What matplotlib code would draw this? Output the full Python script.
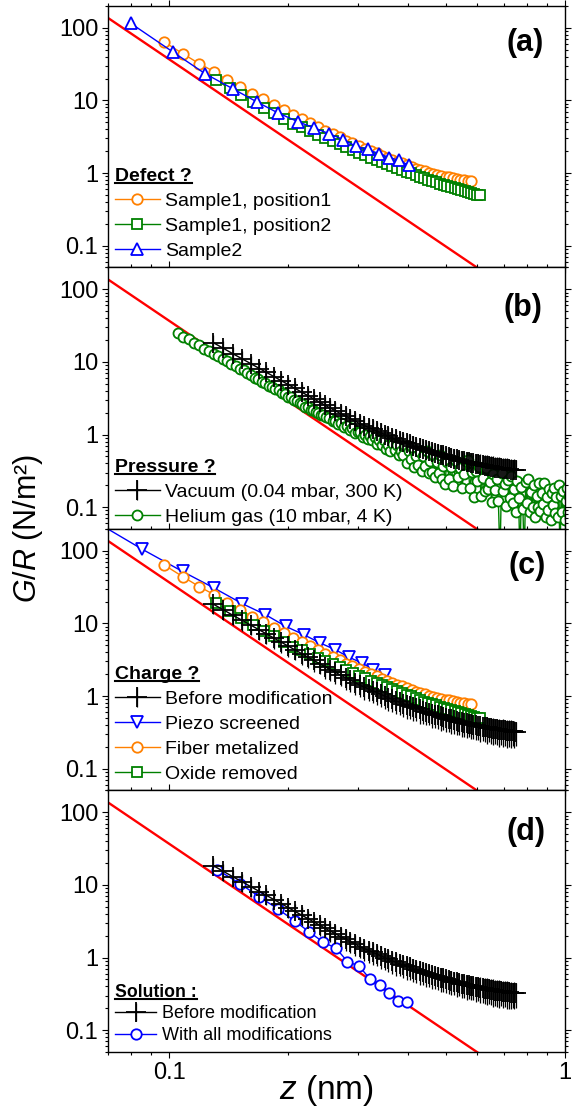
import matplotlib
matplotlib.use('Agg')
import matplotlib.pyplot as plt
from matplotlib.ticker import FixedLocator, FixedFormatter, LogLocator, NullFormatter
from matplotlib.lines import Line2D

plt.rcParams['font.family'] = ['Liberation Sans', 'DejaVu Sans']
plt.rcParams['mathtext.fontset'] = 'custom'
plt.rcParams['mathtext.rm'] = 'Liberation Sans'
plt.rcParams['mathtext.it'] = 'Liberation Sans:italic'
plt.rcParams['mathtext.bf'] = 'Liberation Sans:bold'

# ---- data (z in nm, G/R in N/m^2) ----
y_ticks = [0.1, 1, 10, 100]
y_tick_labels = ['0.1', '1', '10', '100']
x_ticks = [0.1, 1]
x_tick_labels = ['0.1', '1']

# red reference line
z_ref = [0.07, 0.62]
G_ref = [137, 0.044]

# Sample1, position1 / Fiber metalized
z_pos1 = [0.097, 0.108, 0.119, 0.130, 0.140, 0.151, 0.162, 0.173, 0.184, 0.195,
          0.206, 0.216, 0.227, 0.237, 0.248, 0.259, 0.270, 0.280, 0.290, 0.301,
          0.312, 0.323, 0.334, 0.344, 0.355, 0.366, 0.377, 0.388, 0.399, 0.410,
          0.421, 0.431, 0.442, 0.453, 0.464, 0.476, 0.487, 0.499, 0.509, 0.521,
          0.532, 0.544, 0.555, 0.567, 0.577]
G_pos1 = [64.1, 44.3, 32.2, 24.8, 19.0, 15.4, 12.4, 10.5, 8.69, 7.41,
          6.39, 5.57, 4.91, 4.28, 3.85, 3.46, 3.11, 2.80, 2.57, 2.34,
          2.17, 2.02, 1.87, 1.74, 1.63, 1.53, 1.44, 1.36, 1.28, 1.21,
          1.15, 1.10, 1.06, 1.01, 0.983, 0.952, 0.923, 0.894, 0.875, 0.857,
          0.839, 0.813, 0.796, 0.779, 0.787]

# Sample1, position2 / Oxide removed
z_pos2 = [0.131, 0.142, 0.152, 0.163, 0.174, 0.184, 0.195, 0.206, 0.216, 0.227,
          0.238, 0.248, 0.259, 0.270, 0.280, 0.291, 0.302, 0.312, 0.323, 0.334,
          0.344, 0.355, 0.366, 0.376, 0.387, 0.398, 0.408, 0.419, 0.430, 0.440,
          0.451, 0.462, 0.472, 0.483, 0.494, 0.504, 0.515, 0.526, 0.536, 0.547,
          0.558, 0.568, 0.579, 0.590, 0.600, 0.611]
G_pos2 = [19.0, 14.8, 12.0, 9.65, 7.89, 6.63, 5.54, 4.77, 4.26, 3.78,
          3.37, 3.06, 2.75, 2.49, 2.28, 2.08, 1.91, 1.76, 1.62, 1.50,
          1.41, 1.32, 1.24, 1.17, 1.10, 1.04, 0.986, 0.933, 0.883, 0.841,
          0.800, 0.769, 0.744, 0.717, 0.692, 0.670, 0.647, 0.625, 0.607, 0.587,
          0.569, 0.552, 0.536, 0.521, 0.506, 0.492]

# Sample2
z_s2 = [0.080, 0.102, 0.123, 0.145, 0.167, 0.188, 0.211, 0.232, 0.253, 0.275,
        0.296, 0.317, 0.339, 0.360, 0.381, 0.403]
G_s2 = [115, 46.7, 23.5, 14.4, 9.46, 6.75, 5.12, 4.19, 3.50, 2.89,
        2.34, 2.11, 1.85, 1.63, 1.49, 1.28]

# Vacuum / Before modification
z_before = [0.129, 0.137, 0.145, 0.153, 0.161, 0.169, 0.176, 0.184, 0.192, 0.200,
            0.208, 0.216, 0.224, 0.232, 0.240, 0.248, 0.255, 0.263, 0.271, 0.279,
            0.287, 0.295, 0.303, 0.311, 0.319, 0.327, 0.334, 0.342, 0.350, 0.358,
            0.366, 0.374, 0.382, 0.390, 0.398, 0.406, 0.413, 0.421, 0.429, 0.437,
            0.445, 0.453, 0.461, 0.469, 0.477, 0.485, 0.492, 0.500, 0.508, 0.516,
            0.524, 0.532, 0.540, 0.548, 0.556, 0.564, 0.571, 0.579, 0.587, 0.595,
            0.603, 0.611, 0.619, 0.627, 0.635, 0.643, 0.650, 0.658, 0.666, 0.674,
            0.682, 0.690, 0.698, 0.706, 0.714, 0.722, 0.729, 0.737, 0.745, 0.753]
G_before = [18.5, 15.4, 12.9, 11.0, 9.41, 8.12, 7.18, 6.27, 5.50, 4.86,
            4.31, 3.84, 3.44, 3.09, 2.79, 2.52, 2.32, 2.12, 1.94, 1.79,
            1.65, 1.53, 1.41, 1.33, 1.25, 1.18, 1.12, 1.06, 1.00, 0.947,
            0.898, 0.858, 0.821, 0.788, 0.757, 0.730, 0.704, 0.677, 0.653, 0.629,
            0.607, 0.588, 0.571, 0.556, 0.541, 0.527, 0.515, 0.502, 0.489, 0.477,
            0.465, 0.454, 0.443, 0.436, 0.429, 0.422, 0.416, 0.410, 0.403, 0.397,
            0.391, 0.385, 0.380, 0.374, 0.369, 0.364, 0.359, 0.354, 0.351, 0.348,
            0.345, 0.342, 0.339, 0.337, 0.334, 0.331, 0.329, 0.327, 0.324, 0.322]
err_before = [0.26, 0.27, 0.26, 0.28, 0.27, 0.28, 0.27, 0.29, 0.28, 0.29,
              0.28, 0.30, 0.29, 0.30, 0.29, 0.31, 0.30, 0.31, 0.30, 0.32,
              0.31, 0.32, 0.31, 0.33, 0.32, 0.33, 0.32, 0.34, 0.33, 0.34,
              0.33, 0.35, 0.33, 0.34, 0.36, 0.33, 0.35, 0.34, 0.36, 0.34,
              0.35, 0.33, 0.36, 0.34, 0.35, 0.37, 0.34, 0.36, 0.35, 0.37,
              0.35, 0.36, 0.34, 0.37, 0.36, 0.38, 0.35, 0.37, 0.36, 0.38,
              0.36, 0.39, 0.37, 0.38, 0.40, 0.37, 0.39, 0.41, 0.38, 0.40,
              0.42, 0.38, 0.41, 0.39, 0.42, 0.40, 0.41, 0.38, 0.40, 0.37]

# Helium gas (10 mbar, 4 K)
z_helium = [0.105, 0.1085, 0.112, 0.1155, 0.119, 0.1225, 0.126, 0.1295, 0.133, 0.1365,
            0.14, 0.1435, 0.147, 0.1505, 0.154, 0.1575, 0.161, 0.1645, 0.168, 0.1715,
            0.175, 0.1785, 0.182, 0.1855, 0.189, 0.1925, 0.196, 0.1995, 0.203, 0.2065,
            0.21, 0.2135, 0.217, 0.2205, 0.224, 0.2275, 0.231, 0.2345, 0.238, 0.2415,
            0.245, 0.2485,
            0.254, 0.2585, 0.263, 0.2675, 0.272, 0.2765, 0.281, 0.2855, 0.29, 0.2945,
            0.299, 0.3035, 0.308, 0.3125, 0.317, 0.3215, 0.326, 0.3305, 0.335, 0.3395,
            0.344, 0.3485, 0.353, 0.3575, 0.362, 0.3665, 0.371, 0.3755, 0.38, 0.3845,
            0.389, 0.3935, 0.398, 0.4025, 0.407, 0.4115, 0.416, 0.4205, 0.425, 0.4295,
            0.434, 0.4385, 0.443, 0.4475, 0.452, 0.4565, 0.461, 0.4655, 0.47, 0.4745,
            0.479, 0.4835, 0.488, 0.4925, 0.497,
            0.503, 0.5095, 0.516, 0.5225, 0.529, 0.5355, 0.542, 0.5485, 0.555, 0.5615,
            0.568, 0.5745, 0.581, 0.5875, 0.594, 0.6005, 0.607, 0.6135, 0.62, 0.6265,
            0.633, 0.6395, 0.646, 0.6525, 0.659, 0.6655, 0.672, 0.6785, 0.685, 0.6915,
            0.698, 0.7045, 0.711, 0.7175, 0.724, 0.7305, 0.737, 0.7435, 0.75, 0.7565,
            0.763, 0.7695, 0.776, 0.7825, 0.789, 0.7955, 0.802, 0.8085, 0.815, 0.8215,
            0.828, 0.8345, 0.841, 0.8475, 0.854, 0.8605, 0.867, 0.8735, 0.88, 0.8865,
            0.893, 0.8995, 0.906, 0.9125, 0.919, 0.9255, 0.932, 0.9385, 0.945, 0.9515,
            0.958, 0.9645, 0.971, 0.9775, 0.984, 0.9905, 0.997, 1.0035, 1.01, 1.0165,
            1.023, 1.0295, 1.036, 1.0425, 1.049]
G_helium = [25.0, 22.4, 20.6, 18.5, 17.0, 15.3, 14.3, 12.9, 12.1, 10.9,
            10.3, 9.35, 8.85, 8.05, 7.65, 7.0, 6.65, 6.1, 5.82, 5.35,
            5.12, 4.72, 4.55, 4.18, 4.05, 3.72, 3.62, 3.33, 3.26, 2.98,
            2.93, 2.68, 2.65, 2.42, 2.39, 2.20, 2.18, 2.02, 2.0, 1.85,
            1.86, 1.72,
            1.68, 1.54, 1.55, 1.41, 1.42, 1.27, 1.32, 1.16, 1.22, 1.05,
            1.09, 1.09, 0.93, 0.98, 0.86, 0.97, 0.84, 0.92, 0.74, 0.83,
            0.72, 0.83, 0.64, 0.72, 0.60, 0.73, 0.61, 0.72, 0.52, 0.60,
            0.52, 0.69, 0.41, 0.60, 0.46, 0.68, 0.356, 0.51, 0.377, 0.57,
            0.314, 0.50, 0.364, 0.585, 0.294, 0.432, 0.307, 0.50, 0.257, 0.416,
            0.292, 0.52, 0.246, 0.363, 0.211,
            0.418, 0.246, 0.356, 0.195, 0.427, 0.263, 0.347, 0.186, 0.289, 0.428,
            0.44, 0.183, 0.304, 0.139, 0.319, 0.226, 0.353, 0.144, 0.256, 0.166,
            0.341, 0.175, 0.222, 0.117, 0.287, 0.170, 0.241, 0.121, 0.02, 0.295,
            0.166, 0.206, 0.103, 0.233, 0.132, 0.272, 0.114, 0.178, 0.086, 0.232,
            0.134, 0.02, 0.192, 0.095, 0.02, 0.221, 0.114, 0.242, 0.085, 0.161,
            0.101, 0.199, 0.074, 0.143, 0.102, 0.212, 0.088, 0.159, 0.111, 0.216,
            0.074, 0.140, 0.092, 0.175, 0.066, 0.157, 0.108, 0.186, 0.083, 0.139,
            0.073, 0.203, 0.02, 0.142, 0.085, 0.168, 0.066, 0.123, 0.181, 0.086,
            0.142, 0.071, 0.150, 0.094, 0.166]

# Piezo screened
z_piezo = [0.063, 0.0855, 0.108, 0.130, 0.153, 0.175, 0.197, 0.219, 0.241, 0.263,
           0.285, 0.307, 0.328, 0.351]
G_piezo = [280, 105, 52, 30.6, 18.7, 13.2, 9.1, 6.98, 5.36, 4.34,
           3.41, 2.85, 2.3, 1.92]

# With all modifications
z_all = [0.132, 0.151, 0.169, 0.188, 0.208, 0.225, 0.245, 0.264, 0.282, 0.302,
         0.321, 0.340, 0.359, 0.378, 0.398]
G_all = [16.3, 10.4, 6.84, 4.68, 3.16, 2.28, 1.63, 1.34, 0.88, 0.76,
         0.51, 0.425, 0.327, 0.251, 0.248]

RED = '#ff0000'
ORANGE = '#ff8000'
GREEN = '#008000'
BLUE = '#0000ff'


def style_axes(ax, show_x):
    ax.set_xscale('log')
    ax.set_yscale('log')
    ax.set_xlim(0.07, 1.0)
    ax.set_ylim(0.05, 200)
    ax.yaxis.set_major_locator(FixedLocator(y_ticks))
    ax.yaxis.set_major_formatter(FixedFormatter(y_tick_labels))
    ax.yaxis.set_minor_locator(LogLocator(base=10, subs=range(2, 10), numticks=20))
    ax.yaxis.set_minor_formatter(NullFormatter())
    ax.xaxis.set_major_locator(FixedLocator(x_ticks))
    ax.xaxis.set_major_formatter(FixedFormatter(x_tick_labels))
    ax.xaxis.set_minor_locator(LogLocator(base=10, subs=range(2, 10), numticks=20))
    ax.xaxis.set_minor_formatter(NullFormatter())
    ax.tick_params(which='both', direction='out', top=True, right=True,
                   width=0.8, labelsize=17, pad=2.5)
    ax.tick_params(which='major', length=4.5)
    ax.tick_params(which='minor', length=2.3)
    ax.tick_params(labelbottom=show_x)
    for s in ax.spines.values():
        s.set_linewidth(1.0)
    ax.plot(z_ref, G_ref, color=RED, lw=1.7, zorder=1.5)


def plot_before(ax):
    yerr = [g * e for g, e in zip(G_before, err_before)]
    return ax.errorbar(z_before, G_before, yerr=yerr, color='k', marker='+',
                       ms=14, mew=1.3, lw=1.0, elinewidth=0.9, capsize=0)


def add_legend(ax, handles, labels, title, anchor, fs=14, tfs=14, ls=0.38):
    return ax.legend(handles, labels, loc='lower left', bbox_to_anchor=anchor,
                     frameon=False, fontsize=fs, title=title,
                     title_fontproperties={'weight': 'bold', 'size': tfs},
                     alignment='left', handlelength=2.3, handletextpad=0.3,
                     labelspacing=ls, borderpad=0.0, borderaxespad=0.0)


fig = plt.figure(figsize=(5.72, 11.09), dpi=100)
gs = fig.add_gridspec(4, 1, left=0.1888, right=0.9878, top=0.9946,
                      bottom=0.0514, hspace=0)
axes = [fig.add_subplot(gs[i]) for i in range(4)]
legends = []

circ = dict(mfc='white', ms=7.5, mew=1.3, lw=1.0)
sq = dict(mfc='white', ms=6.5, mew=1.3, lw=1.0)
tri = dict(mfc='white', ms=9, mew=1.3, lw=1.0)

# (a) Defect ?
ax = axes[0]
style_axes(ax, False)
h1, = ax.plot(z_pos1, G_pos1, '-o', color=ORANGE, **circ)
h2, = ax.plot(z_pos2, G_pos2, '-s', color=GREEN, **sq)
h3, = ax.plot(z_s2, G_s2, '-^', color=BLUE, **tri)
legends.append(add_legend(ax, [h1, h2, h3],
                          ['Sample1, position1', 'Sample1, position2', 'Sample2'],
                          'Defect ?', (0.015, 0.03)))
ax.text(0.954, 0.857, '(a)', transform=ax.transAxes, ha='right', va='center',
        fontsize=22, fontweight='bold')

# (b) Pressure ?
ax = axes[1]
style_axes(ax, False)
h1 = plot_before(ax)
h2, = ax.plot(z_helium, G_helium, '-o', color=GREEN, mfc='white', ms=7.2,
              mew=1.3, lw=1.0)
legends.append(add_legend(ax, [h1, h2],
                          ['Vacuum (0.04 mbar, 300 K)', 'Helium gas (10 mbar, 4 K)'],
                          'Pressure ?', (0.015, 0.012)))
ax.text(0.950, 0.845, '(b)', transform=ax.transAxes, ha='right', va='center',
        fontsize=22, fontweight='bold')

# (c) Charge ?
ax = axes[2]
style_axes(ax, False)
h1 = plot_before(ax)
h2, = ax.plot(z_piezo, G_piezo, '-v', color=BLUE, **tri)
h3, = ax.plot(z_pos1, G_pos1, '-o', color=ORANGE, **circ)
h4, = ax.plot(z_pos2, G_pos2, '-s', color=GREEN, **sq)
legends.append(add_legend(ax, [h1, h2, h3, h4],
                          ['Before modification', 'Piezo screened',
                           'Fiber metalized', 'Oxide removed'],
                          'Charge ?', (0.015, 0.03)))
ax.text(0.957, 0.857, '(c)', transform=ax.transAxes, ha='right', va='center',
        fontsize=22, fontweight='bold')

# (d) Solution :
ax = axes[3]
style_axes(ax, True)
h1 = plot_before(ax)
h2, = ax.plot(z_all, G_all, '-o', color=BLUE, **circ)
legends.append(add_legend(ax, [h1, h2],
                          ['Before modification', 'With all modifications'],
                          'Solution :', (0.015, 0.03), fs=13, tfs=12.7, ls=0.26))
ax.text(0.957, 0.840, '(d)', transform=ax.transAxes, ha='right', va='center',
        fontsize=22, fontweight='bold')

fig.text(28 / 572, 1 - 528 / 1109, '$G/R$ (N/m²)', rotation=90,
         ha='center', va='center', fontsize=22)
fig.text(326 / 572, 1 - 1090 / 1109, '$z$ (nm)', ha='center', va='center',
         fontsize=24)

# underline legend titles
fig.canvas.draw()
renderer = fig.canvas.get_renderer()
inv = fig.transFigure.inverted()
for leg in legends:
    bb = leg.get_title().get_window_extent(renderer)
    y = bb.y0 + 1.5
    (x0, yy), (x1, _) = inv.transform([(bb.x0, y), (bb.x1, y)])
    fig.add_artist(Line2D([x0, x1], [yy, yy], color='k', lw=1.5,
                          transform=fig.transFigure))

fig.savefig('out.png', dpi=100)
